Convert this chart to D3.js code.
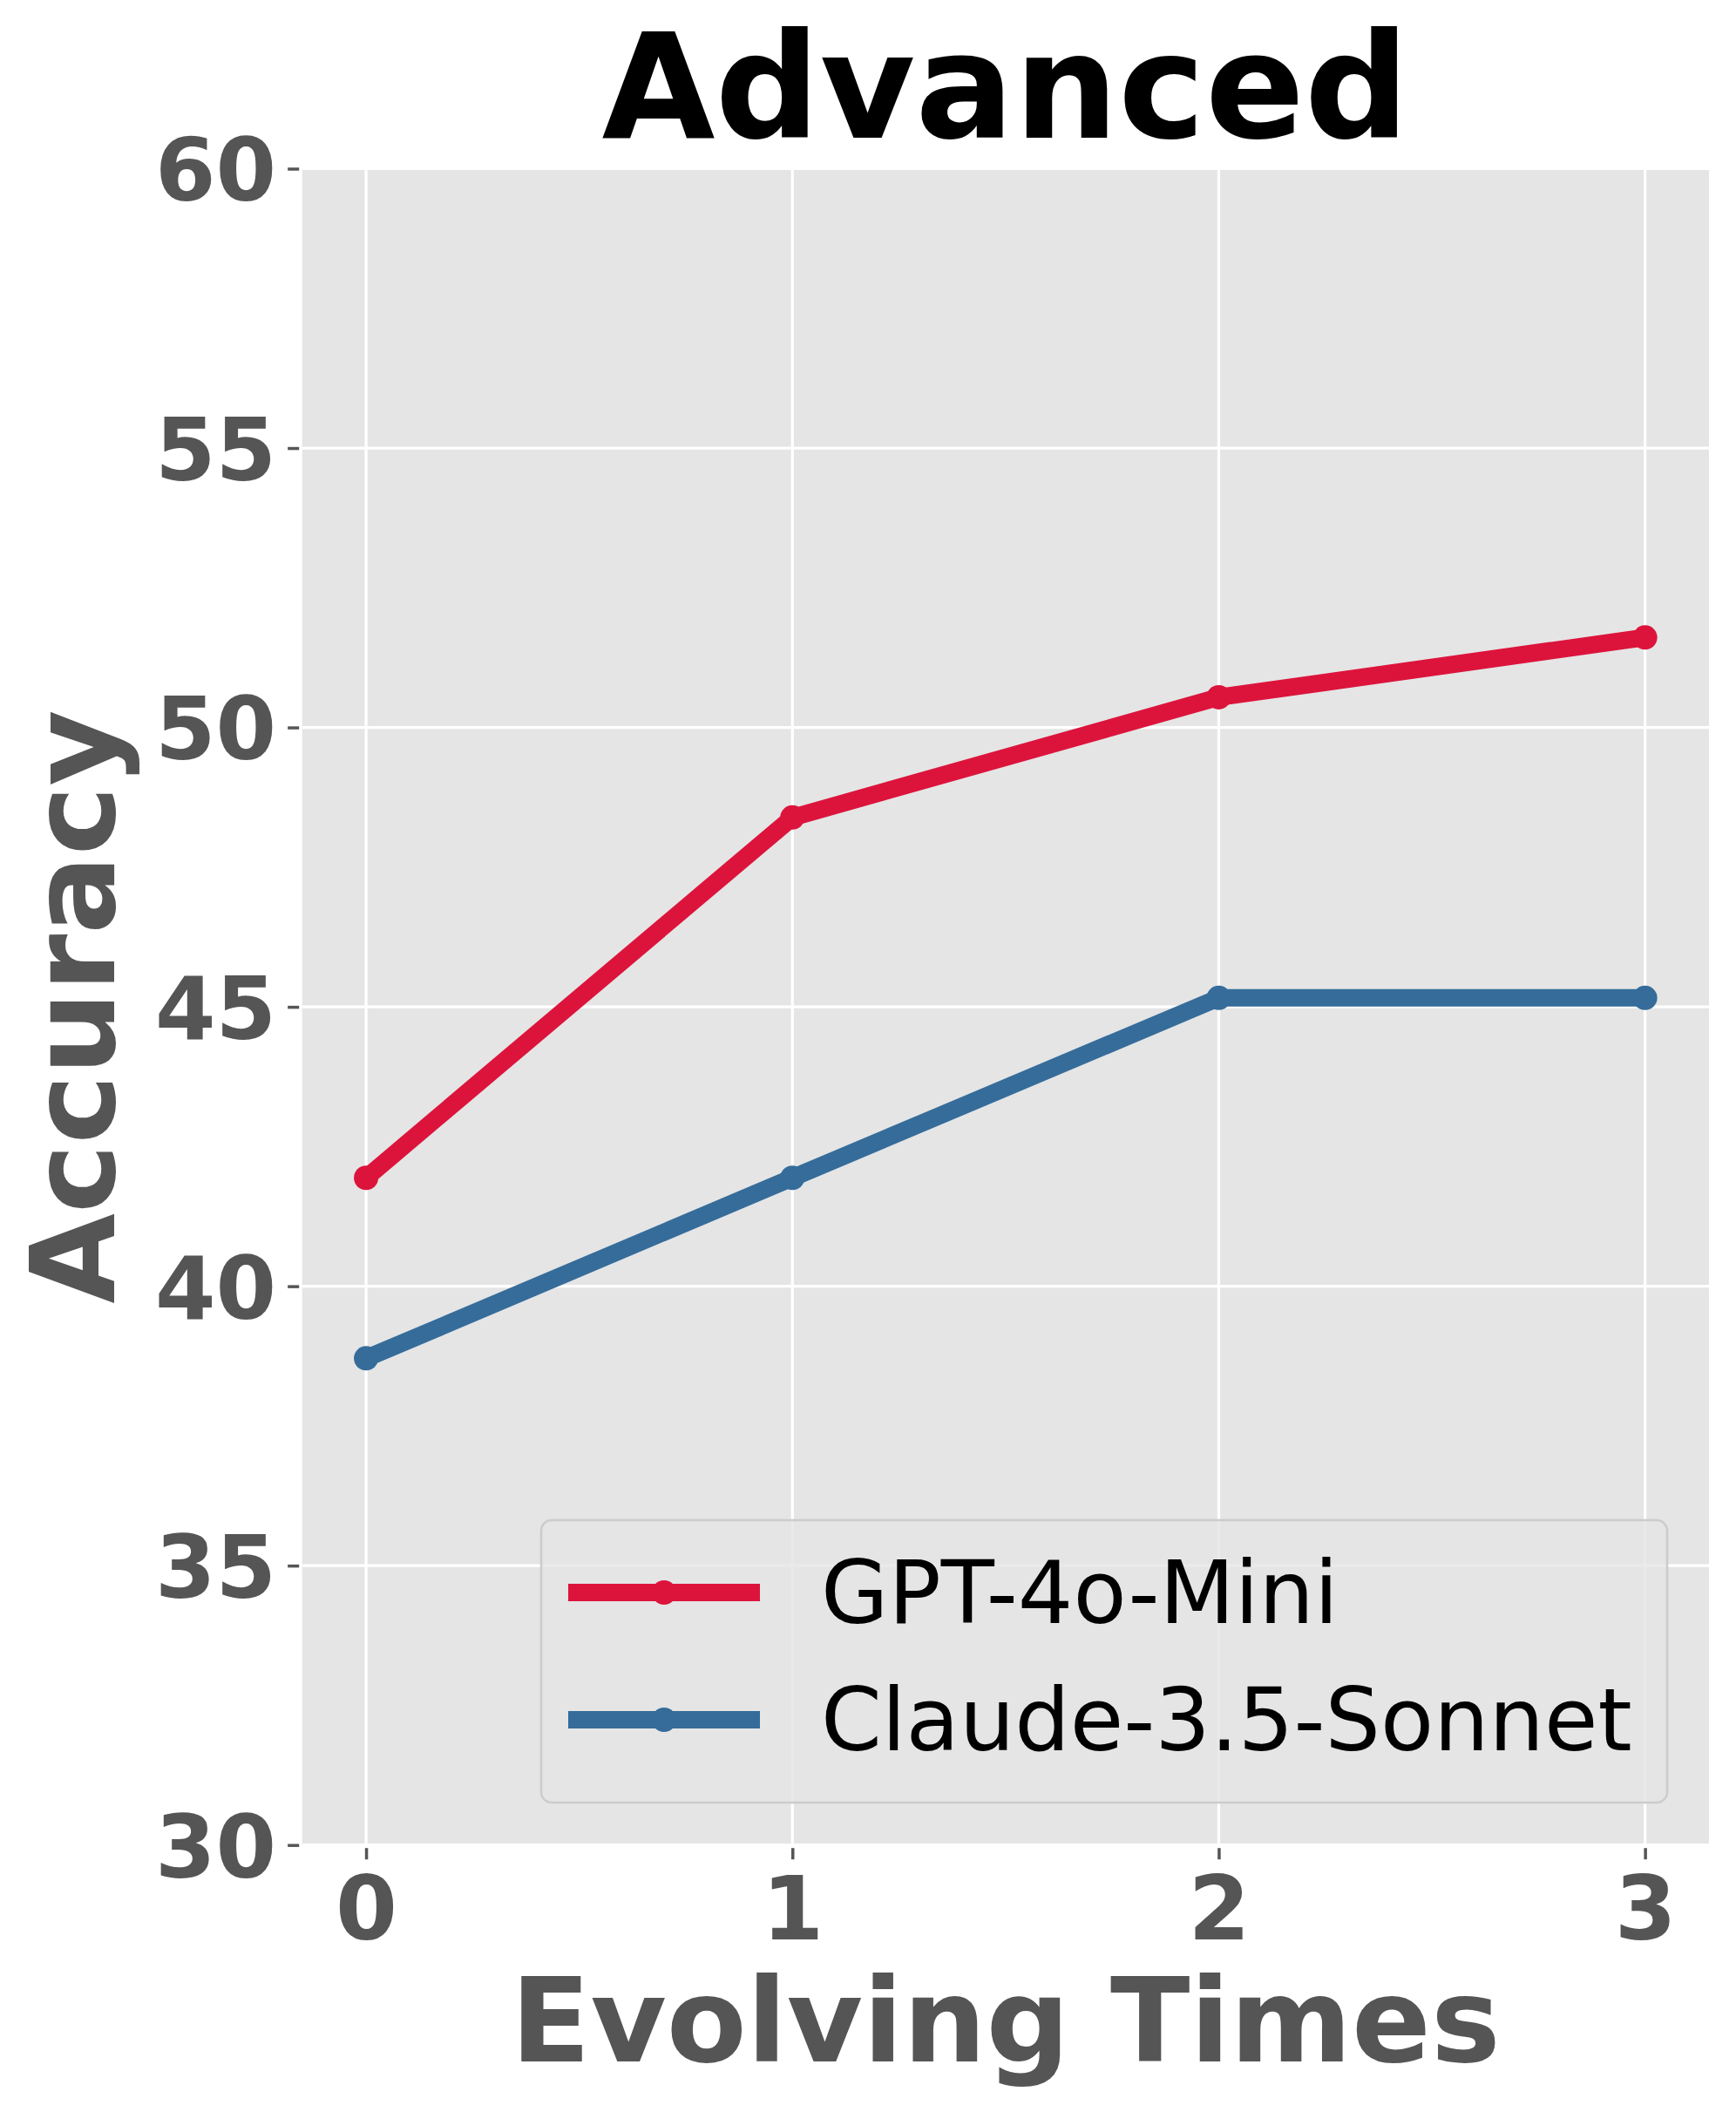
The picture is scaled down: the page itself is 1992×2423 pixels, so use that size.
<!DOCTYPE html>
<html>
<head>
<meta charset="utf-8">
<script src="https://cdn.jsdelivr.net/npm/d3@7"></script>
<style>
  html, body { margin: 0; padding: 0; background: #ffffff; }
  svg { display: block; }
  text { font-family: "DejaVu Sans", sans-serif; }
</style>
</head>
<body>
<script>
// ---- data ----
const evolvingTimes = [0, 1, 2, 3];
const gptValues = [41.94, 48.39, 50.54, 51.61];
const claudeValues = [38.71, 41.94, 45.16, 45.16];
const seriesNames = ["GPT-4o-Mini", "Claude-3.5-Sonnet"];
const seriesColors = ["#DC143C", "#356C9A"];
const yTicks = [30, 35, 40, 45, 50, 55, 60];
const xTicks = [0, 1, 2, 3];
const chartTitle = "Advanced";
const xLabel = "Evolving Times";
const yLabel = "Accuracy";

const W = 1992, H = 2423;
const plot = { left: 346.7, right: 1961, top: 193.5, bottom: 2116.7 };

const svg = d3.select("body").append("svg").attr("width", W).attr("height", H);
svg.append("rect").attr("width", W).attr("height", H).attr("fill", "#ffffff");

const x = d3.scaleLinear().domain([-0.15, 3.15]).range([plot.left, plot.right]);
const y = d3.scaleLinear().domain([30, 60]).range([plot.bottom, plot.top]);

// plot background
svg.append("rect")
  .attr("x", plot.left).attr("y", plot.top)
  .attr("width", plot.right - plot.left).attr("height", plot.bottom - plot.top)
  .attr("fill", "#E5E5E5");

// grid
const grid = svg.append("g");
grid.selectAll("line.gy").data(yTicks).enter().append("line")
  .attr("x1", plot.left).attr("x2", plot.right)
  .attr("y1", d => y(d)).attr("y2", d => y(d))
  .attr("stroke", "#ffffff").attr("stroke-width", 3.2);
grid.selectAll("line.gx").data(xTicks).enter().append("line")
  .attr("y1", plot.top).attr("y2", plot.bottom)
  .attr("x1", d => x(d)).attr("x2", d => x(d))
  .attr("stroke", "#ffffff").attr("stroke-width", 3.2);

// axes using d3 axis generators
const yAxis = d3.axisLeft(y).tickValues(yTicks).tickSize(13).tickPadding(13).tickFormat(d3.format("d"));
const gy = svg.append("g").attr("transform", `translate(${plot.left - 3.5},0)`).call(yAxis);
gy.select(".domain").remove();
gy.selectAll(".tick line").attr("stroke", "#555555").attr("stroke-width", 3.5);
gy.selectAll(".tick text")
  .attr("fill", "#555555").attr("font-size", 100).attr("font-weight", "bold")
  .attr("font-family", "DejaVu Sans").attr("dy", "0.364em");

const xAxis = d3.axisBottom(x).tickValues(xTicks).tickSize(13).tickPadding(17).tickFormat(d3.format("d"));
const gx = svg.append("g").attr("transform", `translate(0,${plot.bottom + 3.5})`).call(xAxis);
gx.select(".domain").remove();
gx.selectAll(".tick line").attr("stroke", "#555555").attr("stroke-width", 3.5);
gx.selectAll(".tick text")
  .attr("fill", "#555555").attr("font-size", 102).attr("font-weight", "bold")
  .attr("font-family", "DejaVu Sans").attr("dy", "0.729em");

// lines
const series = [gptValues, claudeValues];
const line = d3.line().x((d, i) => x(evolvingTimes[i])).y(d => y(d));
series.forEach((vals, si) => {
  const g = svg.append("g");
  g.append("path").datum(vals).attr("d", line)
    .attr("fill", "none").attr("stroke", seriesColors[si])
    .attr("stroke-width", 20).attr("stroke-linejoin", "round").attr("stroke-linecap", "butt");
  g.selectAll("circle").data(vals).enter().append("circle")
    .attr("cx", (d, i) => x(evolvingTimes[i])).attr("cy", d => y(d))
    .attr("r", 14).attr("fill", seriesColors[si]);
});

// legend
const leg = svg.append("g");
leg.append("rect")
  .attr("x", 621).attr("y", 1744).attr("width", 1292).attr("height", 324)
  .attr("rx", 12).attr("ry", 12)
  .attr("fill", "#E5E5E5").attr("fill-opacity", 0.8)
  .attr("stroke", "#CCCCCC").attr("stroke-width", 2.5);
const legY = [1827, 1973];
seriesNames.forEach((name, si) => {
  leg.append("line")
    .attr("x1", 652).attr("x2", 872).attr("y1", legY[si]).attr("y2", legY[si])
    .attr("stroke", seriesColors[si]).attr("stroke-width", 20);
  leg.append("circle").attr("cx", 762).attr("cy", legY[si]).attr("r", 14).attr("fill", seriesColors[si]);
  leg.append("text")
    .attr("x", 942).attr("y", legY[si] + 35)
    .attr("font-size", 100).attr("fill", "#000000")
    .text(name);
});

// title & labels
svg.append("text")
  .attr("x", (plot.left + plot.right) / 2).attr("y", 158)
  .attr("text-anchor", "middle").attr("font-size", 168).attr("font-weight", "bold")
  .attr("fill", "#000000").text(chartTitle);

svg.append("text")
  .attr("x", (plot.left + plot.right) / 2).attr("y", 2365)
  .attr("text-anchor", "middle").attr("font-size", 134).attr("font-weight", "bold")
  .attr("fill", "#555555").text(xLabel);

svg.append("text")
  .attr("transform", `translate(131,${(plot.top + plot.bottom) / 2}) rotate(-90)`)
  .attr("text-anchor", "middle").attr("font-size", 134).attr("font-weight", "bold")
  .attr("fill", "#555555").text(yLabel);
</script>
</body>
</html>
